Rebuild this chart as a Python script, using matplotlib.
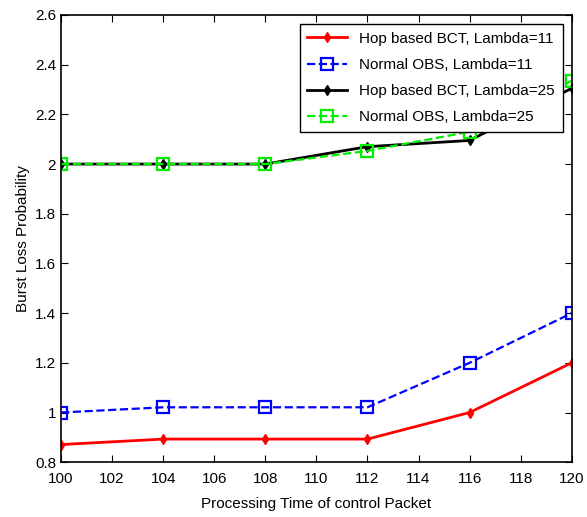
import matplotlib
matplotlib.use("Agg")
import matplotlib.pyplot as plt
import numpy as np

plt.rcParams['font.family'] = ['Liberation Sans', 'DejaVu Sans']

# processing time values (x)
proc_time = [100, 104, 108, 112, 116, 120]

# burst loss probability
hop_l11 = [0.871, 0.893, 0.893, 0.893, 1.0, 1.2]
obs_l11 = [1.0, 1.021, 1.021, 1.021, 1.2, 1.4]
hop_l25 = [2.0, 2.0, 2.0, 2.07, 2.095, 2.305]
obs_l25 = [2.0, 2.0, 2.0, 2.053, 2.13, 2.335]

labels = ['Hop based BCT, Lambda=11', 'Normal OBS, Lambda=11',
          'Hop based BCT, Lambda=25', 'Normal OBS, Lambda=25']

fig = plt.figure(figsize=(5.87, 5.17), dpi=100)
ax = fig.add_axes([0.104, 0.106, 0.870, 0.865])

ax.plot(proc_time, hop_l11, '-', color='red', lw=2, marker='d', ms=5, label=labels[0])
ax.plot(proc_time, obs_l11, '--', color='blue', lw=1.6, marker='s', ms=8,
        mfc='none', mew=1.6, label=labels[1])
ax.plot(proc_time, hop_l25, '-', color='black', lw=2, marker='d', ms=5, label=labels[2])
ax.plot(proc_time, obs_l25, '--', color='#00ee00', lw=1.6, marker='s', ms=8,
        mfc='none', mew=1.6, label=labels[3])

ax.set_xlim(100, 120)
ax.set_ylim(0.8, 2.6)
ax.set_xticks(np.arange(100, 121, 2))
ax.set_yticks([0.8, 1.0, 1.2, 1.4, 1.6, 1.8, 2.0, 2.2, 2.4, 2.6])
ax.set_yticklabels(['0.8', '1', '1.2', '1.4', '1.6', '1.8', '2', '2.2', '2.4', '2.6'])
ax.tick_params(direction='in', top=True, right=True, labelsize=11, length=5)
ax.tick_params(axis='x', pad=7)
for s in ax.spines.values():
    s.set_linewidth(1.2)

ax.set_xlabel('Processing Time of control Packet', fontsize=11, labelpad=8)
ax.set_ylabel('Burst Loss Probability', fontsize=11, labelpad=4)

leg = ax.legend(loc='upper right', fontsize=11, frameon=True, fancybox=False,
                edgecolor='black', framealpha=1, borderaxespad=0.6,
                handlelength=2.6, labelspacing=0.8, borderpad=0.5)
leg.get_frame().set_linewidth(1.0)

fig.savefig('out.png', dpi=100)
